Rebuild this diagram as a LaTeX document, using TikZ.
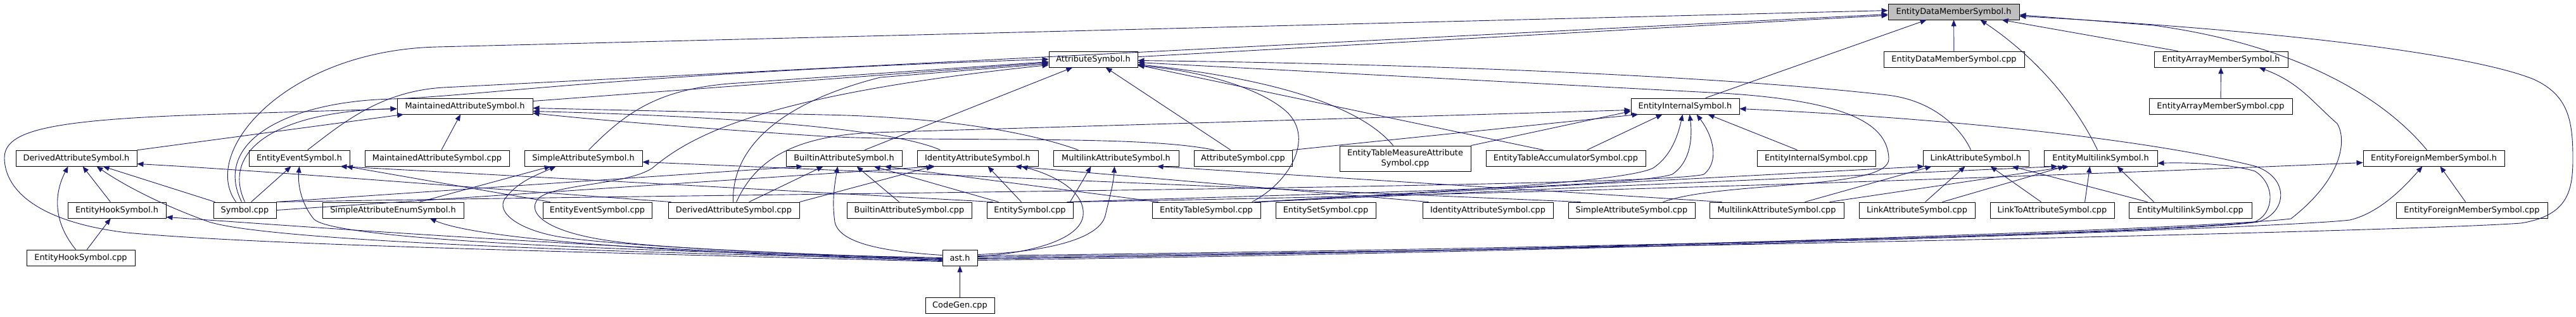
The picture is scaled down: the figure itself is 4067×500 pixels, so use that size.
\documentclass[tikz,border=0pt]{standalone}
\usepackage{fontspec}
\newfontfamily\dvs{DejaVu Sans}
\usetikzlibrary{arrows.meta}
\definecolor{edgecol}{RGB}{25,25,112}
\definecolor{rootfill}{RGB}{191,191,191}
\begin{document}
\begin{tikzpicture}[x=1pt,y=1pt,
 nd/.style={draw=black,line width=0.9pt,fill=white,minimum height=25pt,inner sep=0pt,font=\dvs\fontsize{12.9pt}{15.5pt}\selectfont},
 e/.style={draw=edgecol,line width=0.9pt,-{Triangle[length=10pt,width=8pt]}}]
\useasboundingbox (0,0) rectangle (4067,-500);
% row 1-3
\node[nd,fill=rootfill,minimum width=207pt] (EDMSh) at (3084.5,-18.5) {EntityDataMemberSymbol.h};
\node[nd,minimum width=140pt] (ASh) at (1726,-93.5) {AttributeSymbol.h};
\node[nd,minimum width=222pt] (EDMScpp) at (3085,-93.5) {EntityDataMemberSymbol.cpp};
\node[nd,minimum width=211pt] (EAMSh) at (3506.5,-93.5) {EntityArrayMemberSymbol.h};
\node[nd,minimum width=214pt] (MASh) at (734,-167.5) {MaintainedAttributeSymbol.h};
\node[nd,minimum width=171pt] (EISh) at (2660.5,-167.5) {EntityInternalSymbol.h};
\node[nd,minimum width=226pt] (EAMScpp) at (3506,-167.5) {EntityArrayMemberSymbol.cpp};
% row 4
\node[nd,minimum width=191pt] (DASh) at (120.5,-249.5) {DerivedAttributeSymbol.h};
\node[nd,minimum width=159pt] (EESh) at (472.5,-249.5) {EntityEventSymbol.h};
\node[nd,minimum width=228pt] (MAScpp) at (690,-249.5) {MaintainedAttributeSymbol.cpp};
\node[nd,minimum width=186pt] (SASh) at (921,-249.5) {SimpleAttributeSymbol.h};
\node[nd,minimum width=183pt] (BASh) at (1332.5,-249.5) {BuiltinAttributeSymbol.h};
\node[nd,minimum width=191pt] (IASh) at (1543.5,-249.5) {IdentityAttributeSymbol.h};
\node[nd,minimum width=198pt] (MLASh) at (1762,-249.5) {MultilinkAttributeSymbol.h};
\node[nd,minimum width=155pt] (AScpp) at (1962.5,-249.5) {AttributeSymbol.cpp};
\node[nd,minimum width=207pt,minimum height=40pt,align=center] (ETMAScpp) at (2218.5,-250) {EntityTableMeasureAttribute\\Symbol.cpp};
\node[nd,minimum width=252pt] (ETAScpp) at (2472,-249.5) {EntityTableAccumulatorSymbol.cpp};
\node[nd,minimum width=187pt] (EIScpp) at (2867.5,-249.5) {EntityInternalSymbol.cpp};
\node[nd,minimum width=167pt] (LASh) at (3119.5,-249.5) {LinkAttributeSymbol.h};
\node[nd,minimum width=179pt] (EMSh) at (3316.5,-249.5) {EntityMultilinkSymbol.h};
\node[nd,minimum width=223pt] (EFMSh) at (3842.5,-249.5) {EntityForeignMemberSymbol.h};
% row 5
\node[nd,minimum width=155pt] (EHSh) at (184.5,-331.5) {EntityHookSymbol.h};
\node[nd,minimum width=99pt] (Symcpp) at (386.5,-331.5) {Symbol.cpp};
\node[nd,minimum width=223pt] (SAESh) at (620.5,-331.5) {SimpleAttributeEnumSymbol.h};
\node[nd,minimum width=172pt] (EEScpp) at (943,-331.5) {EntityEventSymbol.cpp};
\node[nd,minimum width=207pt] (DAScpp) at (1158.5,-331.5) {DerivedAttributeSymbol.cpp};
\node[nd,minimum width=197pt] (BAScpp) at (1435.5,-331.5) {BuiltinAttributeSymbol.cpp};
\node[nd,minimum width=136pt] (EScpp) at (1626,-331.5) {EntitySymbol.cpp};
\node[nd,minimum width=171pt] (ETScpp) at (1904.5,-331.5) {EntityTableSymbol.cpp};
\node[nd,minimum width=158pt] (ESScpp) at (2093,-331.5) {EntitySetSymbol.cpp};
\node[nd,minimum width=206pt] (IAScpp) at (2349,-331.5) {IdentityAttributeSymbol.cpp};
\node[nd,minimum width=200pt] (SAScpp) at (2576,-331.5) {SimpleAttributeSymbol.cpp};
\node[nd,minimum width=212pt] (MLAScpp) at (2805,-331.5) {MultilinkAttributeSymbol.cpp};
\node[nd,minimum width=183pt] (LAScpp) at (3026.5,-331.5) {LinkAttributeSymbol.cpp};
\node[nd,minimum width=196pt] (LTAScpp) at (3240,-331.5) {LinkToAttributeSymbol.cpp};
\node[nd,minimum width=194pt] (EMScpp) at (3458,-331.5) {EntityMultilinkSymbol.cpp};
\node[nd,minimum width=239pt] (EFMScpp) at (3902.5,-331.5) {EntityForeignMemberSymbol.cpp};
% row 6-7
\node[nd,minimum width=171pt] (EHScpp) at (127.5,-406.5) {EntityHookSymbol.cpp};
\node[nd,minimum width=55pt] (asth) at (1515.5,-406.5) {ast.h};
\node[nd,minimum width=109pt] (CGcpp) at (1515.5,-481.5) {CodeGen.cpp};

% ---- edges into EntityDataMemberSymbol.h
\draw[e] (ASh) -- (EDMSh);
\draw[e] ([xshift=93pt]EESh.north west) .. controls (540,-195) and (600,-144) .. (700,-138) -- ([yshift=-4pt]EDMSh.west);
\draw[e] ([xshift=36pt]Symcpp.north west) .. controls (315,-240) and (450,-80) .. (690,-74) -- ([yshift=2pt]EDMSh.west);
\draw[e] ([xshift=118pt]EISh.north west) -- ([xshift=61pt]EDMSh.south west);
\draw[e] (EDMScpp) -- (EDMSh);
\draw[e] ([xshift=85pt]EMSh.north west) .. controls (3270,-150) and (3200,-80) .. ([xshift=146pt]EDMSh.south west);
\draw[e] ([xshift=38pt]EAMSh.north west) -- ([xshift=180pt]EDMSh.south west);
\draw[e] ([xshift=101pt]EFMSh.north west) .. controls (3760,-150) and (3620,-70) .. (3400,-40) -- ([yshift=-5pt]EDMSh.east);
\draw[e] ([yshift=1pt]asth.east) .. controls (2600,-392) and (3800,-365) .. (3980,-352) .. controls (4055,-340) and (4062,-300) .. (4062,-250) .. controls (4062,-190) and (4055,-150) .. (4000,-125) .. controls (3900,-85) and (3600,-48) .. ([yshift=-7pt]EDMSh.east);
% ---- into AttributeSymbol.h
\draw[e] (MASh) -- (ASh);
\draw[e] (BASh) -- (ASh);
\draw[e] (AScpp) -- (ASh);
\draw[e] ([xshift=76pt]LASh.north west) .. controls (3095,-200) and (3050,-158) .. (2980,-150) .. controls (2700,-118) and (2200,-100) .. ([yshift=-2pt]ASh.east);
\draw[e] ([xshift=85pt]ETMAScpp.north west) .. controls (2150,-170) and (2020,-125) .. ([yshift=-8pt]ASh.east);
\draw[e] ([xshift=91pt]ETAScpp.north west) -- ([yshift=-9pt]ASh.east);
\draw[e] ([xshift=158pt]ETScpp.north west) .. controls (2040,-285) and (2075,-215) .. (2030,-175) .. controls (1990,-140) and (1900,-112) .. ([yshift=-10pt]ASh.east);
\draw[e] ([xshift=102pt]SASh.north west) .. controls (990,-175) and (1040,-142) .. (1150,-132) -- ([yshift=-4pt]ASh.west);
\draw[e] ([xshift=45pt]Symcpp.north west) .. controls (335,-225) and (450,-160) .. (620,-156) .. controls (750,-152) and (1000,-115) .. (ASh.west);
\draw[e] ([yshift=-3pt]asth.west) .. controls (1250,-400) and (1060,-392) .. (980,-382) .. controls (860,-368) and (830,-335) .. (850,-313) .. controls (875,-290) and (990,-292) .. (1030,-265) .. controls (1090,-215) and (1200,-150) .. ([yshift=-9pt]ASh.west);
\draw[e] ([xshift=103pt]DAScpp.north west) .. controls (1155,-240) and (1220,-165) .. (1390,-122) -- ([yshift=-7pt]ASh.west);
\draw[e] ([xshift=150pt]SAScpp.north west) .. controls (2720,-285) and (2985,-300) .. (2982,-250) .. controls (2980,-200) and (2930,-160) .. (2720,-147) -- ([yshift=-5pt]ASh.east);
% ---- into MaintainedAttributeSymbol.h
\draw[e] (DASh) -- (MASh);
\draw[e] ([yshift=-6pt]asth.west) .. controls (800,-395) and (400,-385) .. (200,-367) .. controls (60,-350) and (8,-300) .. (7,-250) .. controls (6,-205) and (80,-188) .. (350,-180) -- ([yshift=-4pt]MASh.west);
\draw[e] ([xshift=50pt]Symcpp.north west) .. controls (350,-240) and (430,-176) .. ([yshift=-4pt]MASh.west);
\draw[e] ([xshift=37pt]IASh.north west) .. controls (1430,-212) and (1250,-186) .. ([yshift=-8pt]MASh.east);
\draw[e] ([xshift=40pt]MLASh.north west) .. controls (1600,-200) and (1450,-184) .. (1300,-181) -- ([yshift=-3pt]MASh.east);
\draw[e] ([xshift=32pt]AScpp.north west) .. controls (1800,-212) and (1500,-225) .. (1300,-215) .. controls (1100,-202) and (950,-190) .. ([yshift=-11pt]MASh.east);
\draw[e] (MAScpp) -- (MASh);
% ---- into EntityInternalSymbol.h
\draw[e] ([xshift=108pt]DAScpp.north west) .. controls (1190,-260) and (1240,-215) .. (1380,-209) -- ([yshift=-6pt]EISh.west);
\draw[e] (AScpp.north east) -- ([xshift=12pt]EISh.south west);
\draw[e] (ETMAScpp.north east) -- ([yshift=-8pt]EISh.west);
\draw[e] ([xshift=160pt]ETAScpp.north west) -- ([xshift=50pt]EISh.south west);
\draw[e] ([xshift=64pt]EIScpp.north west) -- ([xshift=122pt]EISh.south west);
\draw[e] ([yshift=3pt]asth.east) .. controls (2500,-392) and (3450,-368) .. (3565,-350) .. controls (3612,-335) and (3615,-280) .. (3560,-262) .. controls (3400,-222) and (3100,-188) .. ([yshift=-4pt]EISh.east);
\draw[e] (ETScpp.north east) .. controls (2200,-305) and (2560,-290) .. (2610,-265) .. controls (2640,-245) and (2650,-210) .. ([xshift=82pt]EISh.south west);
\draw[e] ([xshift=-10pt]EScpp.north east) .. controls (2100,-305) and (2580,-295) .. (2640,-275) .. controls (2670,-255) and (2672,-215) .. ([xshift=93pt]EISh.south west);
\draw[e] (Symcpp.north east) .. controls (1200,-305) and (2620,-295) .. (2690,-275) .. controls (2715,-255) and (2705,-215) .. ([xshift=104pt]EISh.south west);
% ---- into DerivedAttributeSymbol.h
\draw[e] (EHSh) -- (DASh);
\draw[e] ([xshift=78pt]EHScpp.north west) .. controls (80,-345) and (88,-300) .. ([xshift=83pt]DASh.south west);
\draw[e] ([xshift=3pt]Symcpp.north west) -- ([xshift=138pt]DASh.south west);
\draw[e] ([yshift=-2pt]asth.west) .. controls (900,-398) and (420,-378) .. (330,-350) .. controls (260,-325) and (200,-295) .. ([xshift=128pt]DASh.south west);
\draw[e] ([xshift=5pt]DAScpp.north west) .. controls (800,-300) and (400,-268) .. ([yshift=-9pt]DASh.east);
% ---- into EntityHookSymbol.h
\draw[e] (EHScpp) -- (EHSh);
\draw[e] ([yshift=-4pt]asth.west) .. controls (900,-390) and (450,-355) .. ([yshift=-11pt]EHSh.east);
% ---- into EntityEventSymbol.h
\draw[e] ([xshift=60pt]Symcpp.north west) -- ([xshift=67pt]EESh.south west);
\draw[e] (asth.west) .. controls (900,-395) and (520,-375) .. (495,-345) .. controls (475,-320) and (470,-290) .. ([xshift=80pt]EESh.south west);
\draw[e] (EEScpp) -- (EESh);
\draw[e] ([xshift=10pt]EScpp.north west) -- ([xshift=-15pt]EESh.south east);
% ---- into SimpleAttributeSymbol.h
\draw[e] ([xshift=154pt]SAESh.north west) -- ([xshift=42pt]SASh.south west);
\draw[e] ([yshift=-1pt]asth.west) .. controls (1200,-400) and (950,-385) .. (880,-373) .. controls (810,-360) and (780,-330) .. (800,-310) .. controls (820,-285) and (850,-275) .. ([xshift=50pt]SASh.south west);
\draw[e] ([xshift=20pt]SAScpp.north west) -- ([yshift=-6pt]SASh.east);
% ---- into SimpleAttributeEnumSymbol.h
\draw[e] ([yshift=-5pt]asth.west) .. controls (1100,-400) and (760,-380) .. ([xshift=170pt]SAESh.south west);
% ---- into BuiltinAttributeSymbol.h
\draw[e] ([xshift=83pt]BAScpp.north west) -- ([xshift=112pt]BASh.south west);
\draw[e] ([xshift=128pt]DAScpp.north west) -- ([xshift=59pt]BASh.south west);
\draw[e] ([yshift=4pt]asth.west) .. controls (1400,-397) and (1325,-385) .. (1318,-350) .. controls (1313,-315) and (1318,-290) .. ([xshift=82pt]BASh.south west);
\draw[e] ([xshift=19pt]EScpp.north west) -- ([xshift=139pt]BASh.south west);
\draw[e] ([xshift=10pt]ETScpp.north west) -- ([xshift=156pt]BASh.south west);
\draw[e] (Symcpp.north east) -- ([xshift=27pt]BASh.south west);
% ---- into IdentityAttributeSymbol.h
\draw[e] ([xshift=55pt]EScpp.north west) -- ([xshift=112pt]IASh.south west);
\draw[e] ([yshift=2pt]asth.east) .. controls (1620,-400) and (1705,-380) .. (1710,-340) .. controls (1714,-300) and (1660,-275) .. ([xshift=165pt]IASh.south west);
\draw[e] ([xshift=10pt]IAScpp.north west) -- ([xshift=155pt]IASh.south west);
\draw[e] (Symcpp.east) -- ([xshift=29pt]IASh.south west);
\draw[e] (DAScpp.north east) -- ([xshift=25pt]IASh.south west);
% ---- into MultilinkAttributeSymbol.h
\draw[e] ([yshift=5pt]asth.east) .. controls (1640,-398) and (1735,-380) .. (1745,-340) .. controls (1752,-310) and (1758,-290) .. ([xshift=97pt]MLASh.south west);
\draw[e] ([xshift=20pt]MLAScpp.north west) -- ([xshift=164pt]MLASh.south west);
\draw[e] ([xshift=-5pt]EScpp.north east) -- ([xshift=60pt]MLASh.south west);
% ---- into LinkAttributeSymbol.h
\draw[e] ([xshift=105pt]LAScpp.north west) -- ([xshift=67pt]LASh.south west);
\draw[e] ([xshift=81pt]LTAScpp.north west) -- ([xshift=107pt]LASh.south west);
\draw[e] ([xshift=30pt]EMScpp.north west) -- ([xshift=141pt]LASh.south west);
\draw[e] ([xshift=151pt]MLAScpp.north west) -- ([xshift=14pt]LASh.south west);
\draw[e] ([xshift=-10pt]ETScpp.north east) -- ([xshift=2pt]LASh.south west);
% ---- into EntityMultilinkSymbol.h
\draw[e] ([xshift=132pt]LAScpp.north west) -- ([xshift=33pt]EMSh.south west);
\draw[e] ([xshift=150pt]LTAScpp.north west) -- ([xshift=73pt]EMSh.south west);
\draw[e] ([xshift=40pt]EMScpp.north west) -- ([xshift=116pt]EMSh.south west);
\draw[e] ([xshift=190pt]MLAScpp.north west) -- ([xshift=40pt]EMSh.south west);
\draw[e] ([xshift=-5pt]ETScpp.north east) -- ([xshift=22pt]EMSh.south west);
\draw[e] ([yshift=-2pt]asth.east) .. controls (2500,-395) and (3450,-365) .. (3560,-350) .. controls (3592,-335) and (3592,-290) .. (3560,-270) .. controls (3520,-258) and (3450,-256) .. ([yshift=-8pt]EMSh.east);
% ---- into EntityForeignMemberSymbol.h
\draw[e] ([xshift=110pt]EFMScpp.north west) -- ([xshift=122pt]EFMSh.south west);
\draw[e] ([yshift=-4pt]asth.east) .. controls (2500,-398) and (3600,-360) .. (3710,-347) .. controls (3760,-335) and (3800,-290) .. ([xshift=94pt]EFMSh.south west);
\draw[e] ([xshift=-3pt]EScpp.north east) .. controls (2500,-305) and (3300,-275) .. ([yshift=-7pt]EFMSh.west);
% ---- into EntityArrayMemberSymbol.h
\draw[e] (EAMScpp) -- (EAMSh);
\draw[e] ([yshift=-1pt]asth.east) .. controls (2500,-396) and (3500,-360) .. (3617,-345) .. controls (3700,-280) and (3705,-220) .. (3690,-195) .. controls (3650,-160) and (3630,-130) .. ([xshift=166pt]EAMSh.south west);
% ---- into ast.h
\draw[e] (CGcpp) -- (asth);
\end{tikzpicture}
\end{document}
